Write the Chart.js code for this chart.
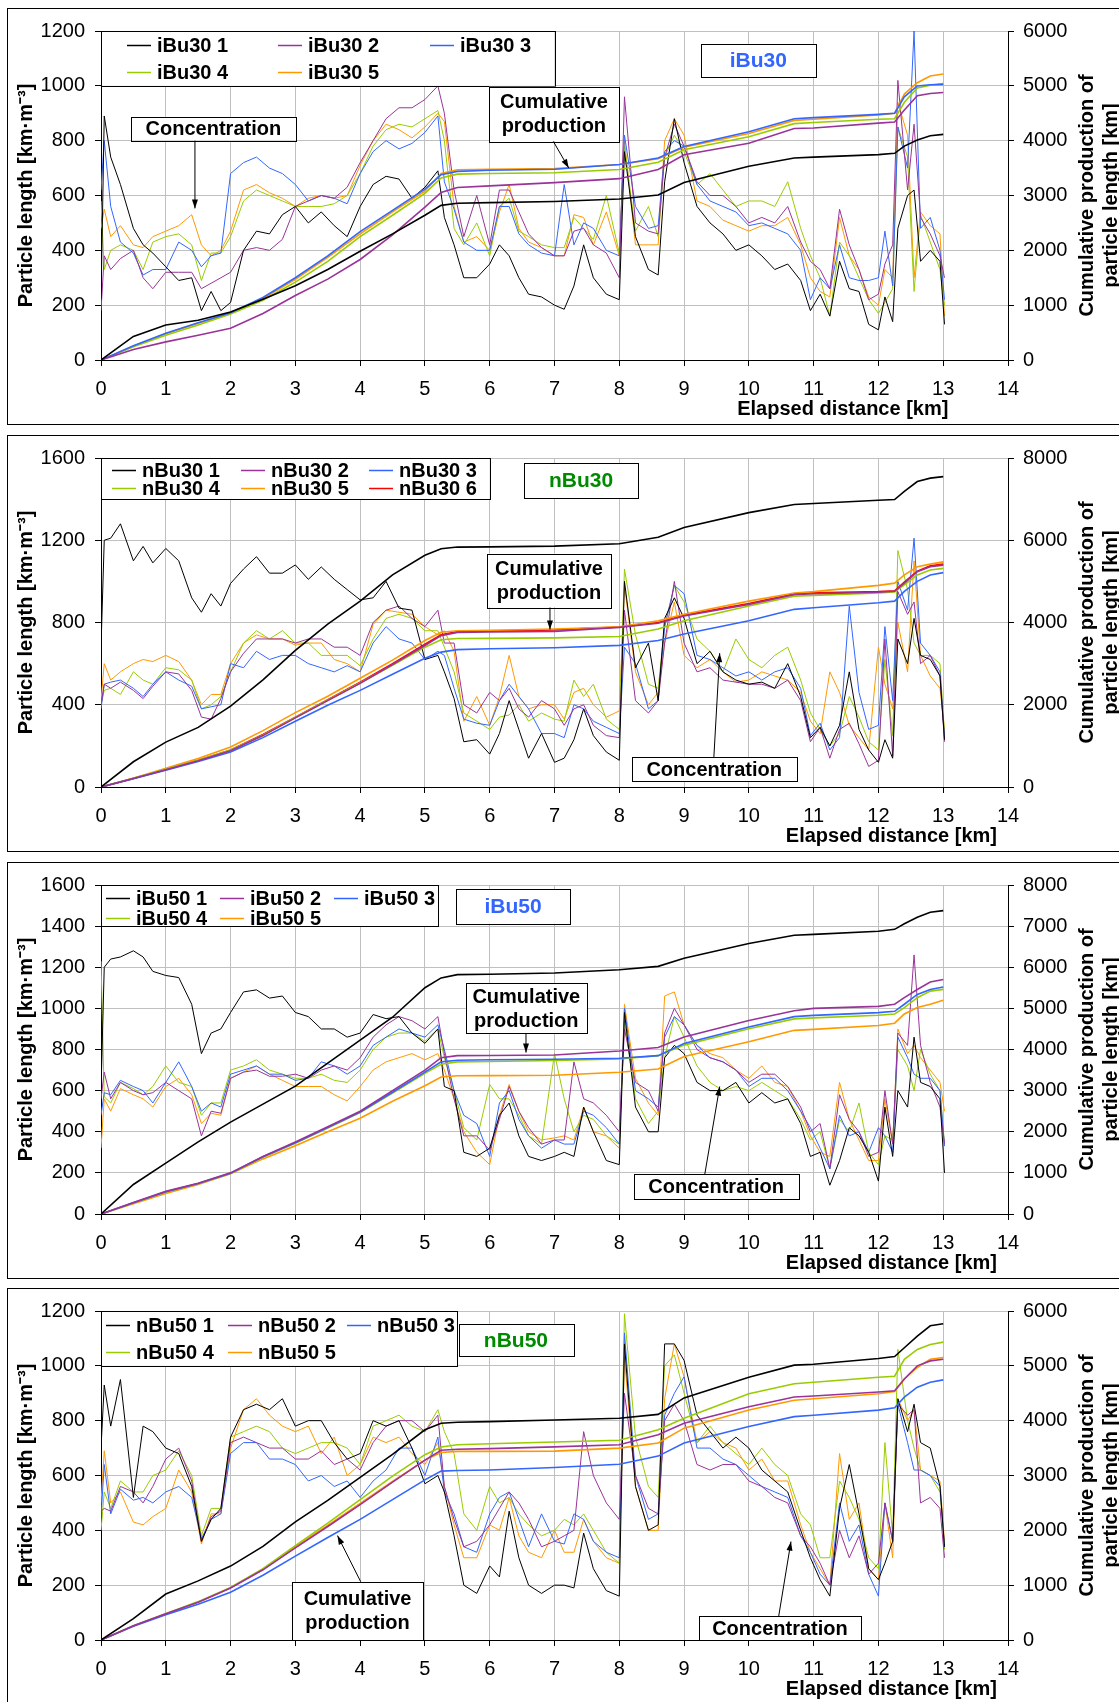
<!DOCTYPE html>
<html>
<head>
<meta charset="utf-8">
<script src="https://cdn.jsdelivr.net/npm/chart.js@4.4.1/dist/chart.umd.min.js"></script>
<style>
html, body { margin: 0; padding: 0; background: #fff; width: 1119px; height: 1702px; overflow: hidden; }
.panel { position: absolute; left: 7px; width: 1140px; height: 415px; border: 1px solid #000; background: #fff; }
.panel canvas { display: block; }
</style>
</head>
<body>
<div class="panel" style="top:8px"><canvas id="chart1" width="1140" height="415"></canvas></div>
<div class="panel" style="top:435px"><canvas id="chart2" width="1140" height="415"></canvas></div>
<div class="panel" style="top:862px"><canvas id="chart3" width="1140" height="415"></canvas></div>
<div class="panel" style="top:1288px"><canvas id="chart4" width="1140" height="415"></canvas></div>
<script>
// distance grid for the concentration traces [km]
const distKm = [0, 0.05, 0.15, 0.3, 0.5, 0.65, 0.8, 1.0, 1.2, 1.4,
    1.55, 1.7, 1.85, 2.0, 2.2, 2.4, 2.6, 2.8, 3.0, 3.2,
    3.4, 3.6, 3.8, 4.0, 4.2, 4.4, 4.6, 4.8, 5.0, 5.2,
    5.3, 5.45, 5.6, 5.8, 6.0, 6.15, 6.3, 6.45, 6.6, 6.8,
    7.0, 7.15, 7.3, 7.45, 7.6, 7.8, 8.0, 8.08, 8.25, 8.45,
    8.6, 8.7, 8.85, 9.0, 9.2, 9.4, 9.6, 9.8, 10.0, 10.2,
    10.4, 10.6, 10.8, 10.95, 11.1, 11.25, 11.4, 11.55, 11.7, 11.85,
    12.0, 12.1, 12.22, 12.3, 12.45, 12.55, 12.65, 12.8, 12.95, 13.02];

// distance grid for the cumulative production curves [km]
const cumKm = [0, 0.5, 1, 1.5, 2, 2.5, 3, 3.5, 4, 4.5, 5, 5.25, 5.5, 6, 7, 8, 8.6, 9, 10, 10.7, 11, 12, 12.25, 12.4, 12.6, 12.8, 13];

const seriesColors = ['#000000', '#993399', '#3366ff', '#99cc00', '#ff9900', '#ff0000'];

// ---- iBu30 ----
const iBu30Names = ['iBu30 1', 'iBu30 2', 'iBu30 3', 'iBu30 4', 'iBu30 5'];
const iBu30Conc1 = [220, 890, 740, 640, 480, 420, 390, 340, 290, 300,
    180, 250, 180, 210, 400, 470, 460, 530, 560, 500,
    540, 490, 450, 560, 640, 670, 660, 590, 630, 690,
    520, 420, 300, 300, 350, 420, 380, 300, 240, 230,
    200, 185, 270, 420, 300, 240, 220, 760, 450, 330,
    310, 650, 880, 720, 560, 500, 460, 400, 420, 380,
    330, 350, 290, 180, 240, 160, 360, 260, 250, 130,
    110, 230, 140, 480, 600, 620, 360, 400, 360, 130];
const iBu30Conc2 = [180, 380, 330, 370, 400, 300, 260, 320, 320, 320,
    260, 280, 300, 320, 400, 410, 400, 440, 560, 580,
    600, 590, 630, 720, 800, 880, 920, 920, 950, 1000,
    900, 620, 450, 600, 420, 620, 620, 540, 460, 410,
    380, 380, 470, 480, 420, 390, 300, 960, 500, 470,
    460, 740, 860, 780, 650, 600, 600, 560, 500, 520,
    500, 560, 430, 360, 330, 260, 550, 420, 330, 220,
    240, 350, 420, 1020, 620, 860, 520, 460, 380, 300];
const iBu30Conc3 = [620, 800, 560, 430, 390, 310, 330, 330, 430, 400,
    340, 380, 390, 680, 720, 740, 700, 680, 640, 580,
    600, 590, 570, 680, 760, 800, 770, 790, 830, 890,
    650, 550, 430, 400, 400, 560, 560, 460, 420, 390,
    380, 640, 420, 500, 480, 400, 380, 820, 560, 480,
    490, 760, 800, 780, 640, 580, 560, 540, 490, 500,
    480, 460, 400, 220, 300, 260, 420, 300, 290, 290,
    300, 470, 270, 850, 700, 1200, 480, 520, 400, 220];
const iBu30Conc4 = [580, 330, 400, 420, 400, 330, 430, 450, 460, 420,
    290, 390, 390, 450, 580, 620, 600, 580, 560, 560,
    560, 570, 600, 680, 780, 840, 860, 850, 880, 910,
    800, 480, 420, 500, 380, 560, 590, 470, 450, 420,
    410, 410, 520, 480, 440, 600, 390, 780, 470, 560,
    450, 740, 820, 760, 640, 680, 620, 560, 580, 580,
    560, 650, 480, 380, 300, 160, 430, 380, 300, 220,
    170, 210, 260, 850, 740, 250, 530, 430, 330, 200];
const iBu30Conc5 = [480, 550, 450, 490, 420, 410, 450, 470, 490, 530,
    420, 380, 400, 470, 620, 640, 610, 590, 560, 590,
    600, 590, 600, 710, 800, 860, 840, 810, 850, 900,
    870, 560, 430, 450, 400, 540, 640, 480, 430, 410,
    380, 380, 530, 520, 420, 540, 380, 800, 420, 420,
    420, 800, 880, 820, 580, 560, 510, 490, 470, 490,
    490, 520, 420, 300, 250, 230, 520, 380, 330, 230,
    200, 330, 300, 940, 820, 300, 540, 490, 460, 160];
const iBu30Cum1 = [0, 430, 640, 725, 877, 1110, 1355, 1650, 1982, 2300, 2640, 2820, 2860, 2870, 2890, 2935, 3010, 3236, 3535, 3684, 3700, 3745, 3770, 3900, 4012, 4090, 4115];
const iBu30Cum2 = [0, 190, 330, 450, 580, 848, 1176, 1475, 1833, 2281, 2788, 3057, 3146, 3176, 3235, 3307, 3474, 3743, 3952, 4221, 4230, 4320, 4340, 4560, 4818, 4860, 4878];
const iBu30Cum3 = [0, 260, 490, 680, 860, 1140, 1500, 1900, 2340, 2730, 3116, 3380, 3440, 3460, 3480, 3564, 3684, 3892, 4162, 4400, 4420, 4480, 4500, 4800, 4997, 5020, 5027];
const iBu30Cum4 = [0, 240, 450, 640, 840, 1090, 1420, 1800, 2250, 2640, 3040, 3320, 3390, 3400, 3415, 3474, 3605, 3833, 4072, 4311, 4330, 4390, 4400, 4700, 4960, 5010, 5040];
const iBu30Cum5 = [0, 250, 480, 670, 850, 1120, 1470, 1870, 2300, 2700, 3080, 3400, 3470, 3480, 3490, 3564, 3670, 3880, 4130, 4370, 4390, 4470, 4500, 4850, 5057, 5180, 5217];

// ---- nBu30 ----
const nBu30Names = ['nBu30 1', 'nBu30 2', 'nBu30 3', 'nBu30 4', 'nBu30 5', 'nBu30 6'];
const nBu30Conc1 = [680, 1200, 1210, 1280, 1100, 1170, 1090, 1160, 1100, 920,
    850, 940, 880, 990, 1060, 1120, 1040, 1040, 1080, 1010,
    1070, 1010, 960, 910, 920, 1000, 870, 860, 620, 640,
    560, 430, 220, 230, 160, 260, 420, 280, 140, 260,
    120, 140, 230, 380, 250, 170, 130, 1000, 580, 700,
    420, 820, 920, 820, 600, 660, 560, 520, 500, 510,
    480, 600, 440, 240, 290, 200, 300, 560, 280, 180,
    120, 230, 140, 720, 600, 820, 640, 620, 540, 230];
const nBu30Conc2 = [400, 500, 480, 510, 470, 430, 490, 560, 550, 470,
    340, 330, 430, 560, 650, 720, 720, 720, 700, 720,
    720, 680, 680, 640, 800, 860, 880, 820, 780, 860,
    700, 700, 400, 360, 460, 420, 480, 380, 340, 420,
    380, 300, 380, 400, 300, 250, 240, 860, 420, 360,
    420, 700, 1000, 700, 560, 580, 520, 510, 500, 500,
    480, 520, 420, 220, 290, 140, 280, 310, 210, 100,
    130, 720, 150, 950, 840, 900, 600, 640, 540, 220];
const nBu30Conc3 = [380, 500, 510, 520, 480, 440, 500, 560, 520, 490,
    380, 390, 400, 600, 580, 660, 620, 640, 640, 600,
    580, 560, 590, 560, 700, 780, 720, 700, 620, 660,
    640, 480, 330, 310, 300, 420, 500, 440, 380, 260,
    260, 240, 400, 380, 320, 290, 260, 680, 600, 380,
    420, 780, 980, 940, 640, 620, 580, 540, 560, 520,
    560, 580, 480, 250, 310, 180, 240, 880, 460, 280,
    300, 780, 420, 1000, 860, 1210, 700, 640, 560, 240];
const nBu30Conc4 = [400, 470, 480, 450, 560, 520, 500, 580, 570, 520,
    380, 400, 440, 560, 700, 760, 720, 760, 700, 700,
    640, 640, 640, 590, 720, 820, 840, 820, 760, 760,
    680, 560, 360, 320, 280, 340, 350, 400, 320, 360,
    330, 320, 520, 440, 500, 330, 280, 1060, 740, 500,
    480, 780, 980, 900, 720, 660, 560, 720, 620, 580,
    640, 680, 520, 360, 280, 200, 260, 440, 340, 220,
    180, 620, 250, 1150, 960, 700, 640, 640, 600, 260];
const nBu30Conc5 = [420, 600, 520, 560, 600, 620, 610, 640, 610, 520,
    400, 450, 450, 600, 700, 740, 720, 720, 690, 700,
    700, 620, 600, 560, 790, 860, 850, 840, 780, 740,
    760, 660, 320, 440, 300, 440, 640, 440, 380, 400,
    400, 330, 460, 480, 400, 340, 370, 980, 560, 400,
    460, 700, 900, 640, 580, 620, 560, 510, 520, 560,
    540, 520, 460, 320, 260, 560, 460, 300, 240, 180,
    680, 500, 380, 800, 560, 1100, 640, 540, 480, 280];
const nBu30Cum1 = [0, 614, 1092, 1450, 1968, 2606, 3323, 3961, 4519, 5157, 5635, 5794, 5834, 5840, 5857, 5914, 6073, 6312, 6671, 6870, 6893, 6973, 6990, 7190, 7428, 7510, 7547];
const nBu30Cum2 = [0, 205, 420, 640, 880, 1250, 1680, 2100, 2520, 2980, 3440, 3680, 3760, 3770, 3785, 3881, 3980, 4160, 4439, 4678, 4700, 4734, 4758, 4957, 5236, 5356, 5396];
const nBu30Cum3 = [0, 200, 410, 620, 850, 1200, 1600, 1990, 2350, 2740, 3130, 3280, 3340, 3360, 3387, 3443, 3563, 3722, 4041, 4320, 4360, 4479, 4519, 4758, 5000, 5157, 5212];
const nBu30Cum4 = [0, 210, 430, 650, 900, 1260, 1690, 2110, 2530, 2960, 3400, 3580, 3610, 3615, 3627, 3660, 3840, 4041, 4400, 4638, 4660, 4718, 4742, 4918, 5157, 5276, 5316];
const nBu30Cum5 = [0, 215, 454, 693, 972, 1371, 1809, 2208, 2646, 3084, 3562, 3762, 3800, 3810, 3841, 3897, 4040, 4200, 4519, 4718, 4750, 4902, 4957, 5157, 5356, 5420, 5475];
const nBu30Cum6 = [0, 210, 430, 650, 900, 1280, 1700, 2120, 2550, 3000, 3470, 3700, 3780, 3790, 3820, 3890, 4000, 4180, 4460, 4700, 4720, 4750, 4770, 4980, 5250, 5380, 5420];

// ---- iBu50 ----
const iBu50Names = ['iBu50 1', 'iBu50 2', 'iBu50 3', 'iBu50 4', 'iBu50 5'];
const iBu50Conc1 = [600, 1200, 1240, 1250, 1280, 1250, 1180, 1160, 1150, 1020,
    780, 880, 900, 980, 1080, 1090, 1050, 1060, 980, 960,
    900, 900, 860, 880, 970, 950, 960, 880, 830, 900,
    620, 600, 300, 280, 320, 480, 540, 380, 280, 260,
    280, 300, 280, 520, 400, 260, 240, 980, 520, 400,
    400, 760, 820, 780, 640, 600, 600, 640, 540, 590,
    540, 560, 440, 280, 300, 140, 260, 420, 380, 300,
    160, 520, 280, 600, 520, 860, 640, 620, 560, 200];
const iBu50Conc2 = [560, 690, 560, 640, 600, 580, 590, 640, 600, 560,
    380, 500, 490, 660, 690, 700, 670, 670, 680, 660,
    700, 720, 700, 760, 860, 920, 960, 940, 900, 960,
    780, 560, 380, 380, 310, 460, 620, 500, 420, 340,
    360, 360, 740, 560, 540, 480, 400, 900, 640, 600,
    500, 880, 1000, 920, 800, 760, 740, 700, 640, 680,
    680, 620, 520, 400, 440, 220, 580, 460, 400, 280,
    300, 600, 340, 880, 820, 1260, 820, 640, 520, 340];
const iBu50Conc3 = [480, 590, 580, 650, 620, 600, 540, 640, 740, 620,
    500, 540, 520, 680, 700, 720, 680, 680, 650, 660,
    740, 720, 680, 720, 820, 860, 900, 880, 860, 920,
    800, 600, 480, 440, 280, 540, 600, 460, 380, 320,
    360, 340, 340, 500, 480, 420, 340, 1000, 600, 560,
    520, 860, 960, 920, 820, 760, 740, 700, 620, 660,
    660, 600, 500, 420, 320, 220, 480, 380, 400, 300,
    420, 380, 300, 860, 760, 680, 660, 660, 600, 330];
const iBu50Conc4 = [1230, 570, 540, 640, 610, 580, 620, 720, 640, 620,
    480, 540, 540, 700, 720, 750, 700, 680, 660, 660,
    680, 650, 640, 700, 800, 860, 880, 880, 840, 900,
    760, 600, 420, 360, 630, 560, 560, 480, 380, 340,
    780, 560, 400, 480, 460, 380, 340, 940, 560, 440,
    500, 760, 960, 860, 720, 640, 600, 620, 600, 640,
    600, 560, 460, 360, 400, 220, 460, 400, 540, 300,
    240, 380, 360, 800, 720, 600, 800, 680, 600, 340];
const iBu50Conc5 = [320, 560, 500, 610, 580, 560, 520, 620, 660, 580,
    440, 490, 480, 660, 690, 720, 680, 650, 620, 620,
    620, 580, 550, 620, 700, 740, 760, 780, 750, 780,
    700, 560, 400, 300, 240, 480, 630, 500, 400, 360,
    370, 380, 360, 520, 400, 380, 320, 1020, 660, 540,
    480, 1060, 1080, 920, 820, 780, 760, 700, 660, 720,
    640, 620, 500, 380, 300, 280, 640, 460, 360, 260,
    260, 560, 340, 900, 780, 820, 760, 700, 640, 500];
const iBu50Cum1 = [0, 718, 1236, 1754, 2233, 2671, 3110, 3668, 4226, 4785, 5502, 5741, 5820, 5830, 5861, 5941, 6021, 6220, 6579, 6778, 6800, 6874, 6922, 7057, 7217, 7337, 7377];
const iBu50Cum2 = [0, 280, 550, 750, 1000, 1400, 1750, 2120, 2500, 3000, 3500, 3800, 3850, 3855, 3867, 3963, 4050, 4306, 4705, 4944, 5000, 5049, 5100, 5260, 5460, 5640, 5700];
const iBu50Cum3 = [0, 275, 540, 740, 990, 1390, 1730, 2100, 2480, 2960, 3450, 3700, 3740, 3750, 3764, 3788, 3850, 4146, 4545, 4800, 4830, 4896, 4928, 5100, 5340, 5460, 5519];
const iBu50Cum4 = [0, 270, 530, 740, 985, 1380, 1720, 2090, 2470, 2940, 3420, 3640, 3700, 3710, 3732, 3770, 3850, 4107, 4505, 4745, 4770, 4832, 4864, 5020, 5260, 5420, 5463];
const iBu50Cum5 = [0, 250, 500, 720, 980, 1340, 1660, 2000, 2330, 2740, 3120, 3330, 3360, 3365, 3373, 3445, 3525, 3828, 4187, 4466, 4490, 4585, 4640, 4864, 5020, 5100, 5200];

// ---- nBu50 ----
const nBu50Names = ['nBu50 1', 'nBu50 2', 'nBu50 3', 'nBu50 4', 'nBu50 5'];
const nBu50Conc1 = [700, 930, 780, 950, 520, 780, 760, 700, 680, 560,
    360, 440, 480, 740, 840, 860, 840, 880, 780, 800,
    800, 720, 660, 680, 800, 780, 800, 700, 570, 600,
    540, 380, 200, 170, 270, 230, 470, 300, 200, 170,
    200, 200, 190, 390, 260, 180, 160, 1080, 560, 400,
    420, 1080, 1080, 1020, 820, 760, 700, 740, 700, 620,
    580, 540, 400, 300, 220, 160, 480, 640, 460, 260,
    220, 280, 360, 880, 760, 860, 720, 700, 560, 340];
const nBu50Conc2 = [470, 480, 470, 560, 540, 500, 560, 660, 700, 580,
    360, 450, 470, 720, 740, 720, 700, 700, 660, 660,
    690, 640, 660, 620, 720, 780, 800, 800, 760, 820,
    560, 440, 340, 360, 420, 480, 540, 500, 440, 340,
    360, 380, 400, 760, 600, 500, 440, 900, 600, 480,
    460, 800, 860, 800, 640, 620, 640, 640, 580, 560,
    520, 500, 380, 340, 280, 200, 400, 300, 380, 240,
    280, 500, 360, 860, 820, 840, 500, 520, 480, 300];
const nBu50Conc3 = [450, 640, 460, 550, 510, 520, 500, 540, 560, 520,
    370, 440, 460, 680, 720, 720, 660, 660, 640, 580,
    600, 560, 580, 520, 580, 620, 700, 700, 600, 740,
    540, 460, 340, 320, 460, 520, 540, 440, 340, 460,
    360, 350, 460, 440, 360, 320, 300, 1120, 600, 440,
    460, 820, 900, 960, 700, 700, 660, 640, 600, 560,
    540, 520, 380, 320, 240, 200, 500, 360, 420, 240,
    160, 500, 360, 860, 720, 620, 620, 600, 560, 340];
const nBu50Conc4 = [400, 540, 480, 580, 540, 540, 600, 620, 690, 600,
    380, 480, 480, 740, 760, 780, 760, 700, 680, 700,
    720, 720, 700, 640, 780, 800, 820, 780, 760, 840,
    760, 680, 460, 400, 560, 500, 520, 460, 420, 380,
    400, 440, 420, 460, 400, 320, 280, 1190, 740, 560,
    520, 1000, 1040, 900, 720, 780, 720, 680, 640, 700,
    640, 600, 460, 420, 300, 300, 580, 520, 440, 300,
    260, 720, 380, 1060, 800, 700, 620, 600, 540, 330];
const nBu50Conc5 = [500, 690, 500, 540, 430, 420, 450, 480, 620, 540,
    350, 460, 460, 700, 840, 880, 820, 780, 760, 780,
    680, 740, 600, 640, 740, 720, 740, 680, 640, 720,
    560, 420, 300, 300, 420, 400, 520, 380, 320, 300,
    400, 320, 320, 440, 360, 300, 280, 1030, 560, 400,
    400, 880, 1080, 960, 720, 760, 720, 700, 620, 660,
    580, 580, 420, 320, 260, 200, 680, 440, 500, 260,
    220, 500, 300, 880, 800, 840, 620, 600, 580, 360];
const nBu50Cum1 = [0, 390, 838, 1078, 1348, 1707, 2156, 2545, 2965, 3384, 3833, 3953, 3970, 3983, 4013, 4043, 4115, 4415, 4792, 5013, 5030, 5133, 5170, 5330, 5540, 5730, 5768];
const nBu50Cum2 = [0, 260, 480, 690, 950, 1280, 1680, 2070, 2470, 2880, 3280, 3460, 3480, 3490, 3522, 3560, 3743, 3953, 4253, 4433, 4450, 4522, 4546, 4760, 5000, 5090, 5121];
const nBu50Cum3 = [0, 250, 460, 650, 870, 1180, 1530, 1870, 2200, 2560, 2920, 3080, 3090, 3100, 3145, 3205, 3354, 3594, 3893, 4073, 4100, 4193, 4235, 4430, 4610, 4700, 4744];
const nBu50Cum4 = [0, 260, 480, 700, 960, 1300, 1720, 2130, 2560, 2990, 3380, 3520, 3560, 3580, 3612, 3642, 3833, 4043, 4492, 4672, 4700, 4792, 4810, 5120, 5300, 5390, 5433];
const nBu50Cum5 = [0, 255, 480, 690, 950, 1290, 1700, 2090, 2490, 2890, 3280, 3420, 3440, 3440, 3444, 3500, 3594, 3863, 4193, 4373, 4400, 4492, 4534, 4760, 4970, 5120, 5151];


const FONT = '"Liberation Sans", Arial, sans-serif';
Chart.defaults.font.family = FONT;
Chart.defaults.font.size = 20;
Chart.defaults.color = '#000';

let panels = [
    {
        canvas: 'chart1', names: iBu30Names,
        conc: [iBu30Conc1, iBu30Conc2, iBu30Conc3, iBu30Conc4, iBu30Conc5],
        cum: [iBu30Cum1, iBu30Cum2, iBu30Cum3, iBu30Cum4, iBu30Cum5],
        yMax: 1200, yStep: 200, y1Max: 6000, y1Step: 1000,
        legend: { right: 7, bottom: 1000, cols: [26, 177, 329], rows: [14, 41] },
        tag: { text: 'iBu30', color: '#3366ff', x0: 9.26, x1: 11.03, y0: 1031, y1: 1153 },
        notes: [
            { lines: ['Concentration'], x0: 0.46, x1: 3.01, y0: 801, y1: 887, from: [1.45, 801], to: [1.45, 553] },
            { lines: ['Cumulative', 'production'], x0: 5.99, x1: 7.99, y0: 798, y1: 997, from: [6.98, 798], to: [7.22, 700] }
        ],
        xTitleAt: 11.45
    },
    {
        canvas: 'chart2', names: nBu30Names,
        conc: [nBu30Conc1, nBu30Conc2, nBu30Conc3, nBu30Conc4, nBu30Conc5],
        cum: [nBu30Cum1, nBu30Cum2, nBu30Cum3, nBu30Cum4, nBu30Cum5, nBu30Cum6],
        yMax: 1600, yStep: 400, y1Max: 8000, y1Step: 2000,
        legend: { right: 6, bottom: 1400, cols: [11, 140, 268], rows: [12, 30] },
        tag: { text: 'nBu30', color: '#008a00', x0: 6.53, x1: 8.29, y0: 1404, y1: 1576 },
        notes: [
            { lines: ['Cumulative', 'production'], x0: 5.96, x1: 7.87, y0: 874, y1: 1135, from: [6.93, 874], to: [6.93, 766] },
            { lines: ['Concentration'], x0: 8.19, x1: 10.74, y0: 29, y1: 146, from: [9.46, 146], to: [9.55, 651] }
        ],
        xTitleAt: 12.2
    },
    {
        canvas: 'chart3', names: iBu50Names,
        conc: [iBu50Conc1, iBu50Conc2, iBu50Conc3, iBu50Conc4, iBu50Conc5],
        cum: [iBu50Cum1, iBu50Cum2, iBu50Cum3, iBu50Cum4, iBu50Cum5],
        yMax: 1600, yStep: 200, y1Max: 8000, y1Step: 1000,
        legend: { right: 5.2, bottom: 1400, cols: [5, 119, 233], rows: [13, 33] },
        tag: { text: 'iBu50', color: '#3366ff', x0: 5.48, x1: 7.24, y0: 1411, y1: 1581 },
        notes: [
            { lines: ['Cumulative', 'production'], x0: 5.63, x1: 7.5, y0: 879, y1: 1123, from: [6.56, 879], to: [6.56, 785] },
            { lines: ['Concentration'], x0: 8.22, x1: 10.77, y0: 74, y1: 194, from: [9.32, 194], to: [9.55, 620] }
        ],
        xTitleAt: 12.2
    },
    {
        canvas: 'chart4', names: nBu50Names,
        conc: [nBu50Conc1, nBu50Conc2, nBu50Conc3, nBu50Conc4, nBu50Conc5],
        cum: [nBu50Cum1, nBu50Cum2, nBu50Cum3, nBu50Cum4, nBu50Cum5],
        yMax: 1200, yStep: 200, y1Max: 6000, y1Step: 1000,
        legend: { right: 5.5, bottom: 1000, cols: [5, 127, 246], rows: [14, 41] },
        tag: { text: 'nBu50', color: '#008a00', x0: 5.52, x1: 7.29, y0: 1035, y1: 1153 },
        notes: [
            { lines: ['Cumulative', 'production'], x0: 2.95, x1: 4.97, y0: 0, y1: 212, from: [4.01, 212], to: [3.65, 381] },
            { lines: ['Concentration'], x0: 9.23, x1: 11.73, y0: 0, y1: 86, from: [10.46, 86], to: [10.65, 359] }
        ],
        xTitleAt: 12.2
    }
];


function drawBox(ctx, x0, y0, x1, y1) {
    ctx.fillStyle = '#fff';
    ctx.fillRect(x0, y0, x1 - x0, y1 - y0);
    ctx.strokeStyle = '#000';
    ctx.lineWidth = 1;
    ctx.strokeRect(Math.round(x0) + 0.5, Math.round(y0) + 0.5, Math.round(x1 - x0), Math.round(y1 - y0));
}

function drawArrow(ctx, x0, y0, x1, y1) {
    ctx.strokeStyle = '#000';
    ctx.fillStyle = '#000';
    ctx.lineWidth = 1;
    ctx.beginPath();
    ctx.moveTo(x0, y0);
    ctx.lineTo(x1, y1);
    ctx.stroke();
    let ang = Math.atan2(y1 - y0, x1 - x0);
    ctx.beginPath();
    ctx.moveTo(x1, y1);
    ctx.lineTo(x1 - 9 * Math.cos(ang) + 3 * Math.sin(ang), y1 - 9 * Math.sin(ang) - 3 * Math.cos(ang));
    ctx.lineTo(x1 - 9 * Math.cos(ang) - 3 * Math.sin(ang), y1 - 9 * Math.sin(ang) + 3 * Math.cos(ang));
    ctx.closePath();
    ctx.fill();
}

// legend, labels, arrows and the axis titles
const decorPlugin = {
    id: 'decor',
    afterDraw(chart, args, o) {
        const ctx = chart.ctx;
        const a = chart.chartArea;
        const px = v => chart.scales.x.getPixelForValue(v);
        const py = v => chart.scales.y.getPixelForValue(v);
        ctx.save();

        // legend
        let lg = o.legend;
        drawBox(ctx, a.left, a.top, px(lg.right), py(lg.bottom));
        ctx.font = 'bold 20px ' + FONT;
        ctx.textAlign = 'left';
        ctx.textBaseline = 'middle';
        o.names.forEach((name, i) => {
            let x = a.left + lg.cols[i % 3];
            let y = a.top + lg.rows[Math.floor(i / 3)];
            ctx.strokeStyle = seriesColors[i];
            ctx.lineWidth = 1.5;
            ctx.beginPath();
            ctx.moveTo(x, y + 0.5);
            ctx.lineTo(x + 24, y + 0.5);
            ctx.stroke();
            ctx.fillStyle = '#000';
            ctx.fillText(name, x + 30, y + 1);
        });

        // panel name
        let t = o.tag;
        drawBox(ctx, px(t.x0), py(t.y1), px(t.x1), py(t.y0));
        ctx.font = 'bold 21px ' + FONT;
        ctx.textAlign = 'center';
        ctx.fillStyle = t.color;
        ctx.fillText(t.text, (px(t.x0) + px(t.x1)) / 2, (py(t.y0) + py(t.y1)) / 2 + 1);

        // annotations
        o.notes.forEach(n => {
            drawArrow(ctx, px(n.from[0]), py(n.from[1]), px(n.to[0]), py(n.to[1]));
            drawBox(ctx, px(n.x0), py(n.y1), px(n.x1), py(n.y0));
            ctx.font = 'bold 20px ' + FONT;
            ctx.fillStyle = '#000';
            ctx.textAlign = 'center';
            let cx = (px(n.x0) + px(n.x1)) / 2;
            let cy = (py(n.y0) + py(n.y1)) / 2;
            n.lines.forEach((s, k) => {
                ctx.fillText(s, cx, cy + (k - (n.lines.length - 1) / 2) * 24 + 1);
            });
        });

        // axis titles
        let midY = (a.top + a.bottom) / 2;
        ctx.font = 'bold 20px ' + FONT;
        ctx.fillStyle = '#000';
        ctx.textAlign = 'center';
        ctx.fillText('Elapsed distance [km]', px(o.xTitleAt), a.bottom + 49);

        ctx.save();
        ctx.translate(18, midY);
        ctx.rotate(-Math.PI / 2);
        ctx.fillText('Particle length [km·m⁻³]', 0, 0);
        ctx.restore();

        ctx.save();
        ctx.translate(a.right + 79, midY);
        ctx.rotate(-Math.PI / 2);
        ctx.fillText('Cumulative production of', 0, 0);
        ctx.restore();
        ctx.save();
        ctx.translate(a.right + 103, midY);
        ctx.rotate(-Math.PI / 2);
        ctx.fillText('particle length [km]', 0, 0);
        ctx.restore();

        ctx.restore();
    }
};


function makeSet(xs, ys, color, axis, width, order) {
    return {
        data: xs.map((x, i) => ({ x: x, y: ys[i] })),
        borderColor: color,
        backgroundColor: color,
        borderWidth: width,
        yAxisID: axis,
        pointRadius: 0,
        tension: 0,
        fill: false,
        order: order
    };
}

panels.forEach(p => {
    let datasets = [];
    p.conc.forEach((ys, i) => datasets.push(makeSet(distKm, ys, seriesColors[i], 'y', 1, 1)));
    p.cum.forEach((ys, i) => datasets.push(makeSet(cumKm, ys, seriesColors[i], 'y1', 1.6, 0)));

    const edge = (c, v) => (c.tick && c.tick.value === v) ? '#000' : '#c0c0c0';
    const plain = { useGrouping: false };

    new Chart(document.getElementById(p.canvas), {
        type: 'line',
        data: { datasets: datasets },
        plugins: [decorPlugin],
        options: {
            responsive: false,
            animation: false,
            devicePixelRatio: 1,
            layout: { padding: { top: 17, left: 0, right: 0, bottom: 0 } },
            plugins: {
                legend: { display: false },
                tooltip: { enabled: false },
                decor: { names: p.names, legend: p.legend, tag: p.tag, notes: p.notes, xTitleAt: p.xTitleAt }
            },
            scales: {
                x: {
                    type: 'linear', min: 0, max: 14,
                    ticks: { stepSize: 1, padding: 11, color: '#000', format: plain },
                    grid: { color: c => (c.tick && (c.tick.value === 0 || c.tick.value === 14)) ? '#000' : '#c0c0c0', tickColor: '#000', tickLength: 6 },
                    border: { color: '#000' },
                    afterFit: s => { s.height = 64; }
                },
                y: {
                    position: 'left', min: 0, max: p.yMax,
                    ticks: { stepSize: p.yStep, padding: 10, color: '#000', format: plain },
                    grid: { color: c => edge(c, 0), tickColor: '#000', tickLength: 6 },
                    border: { color: '#000' },
                    afterFit: s => { s.width = 93; }
                },
                y1: {
                    position: 'right', min: 0, max: p.y1Max,
                    ticks: { stepSize: p.y1Step, padding: 9, color: '#000', format: plain },
                    grid: { drawOnChartArea: false, tickColor: '#000', tickLength: 6 },
                    border: { color: '#000' },
                    afterFit: s => { s.width = 140; }
                }
            }
        }
    });
});
</script>
</body>
</html>
